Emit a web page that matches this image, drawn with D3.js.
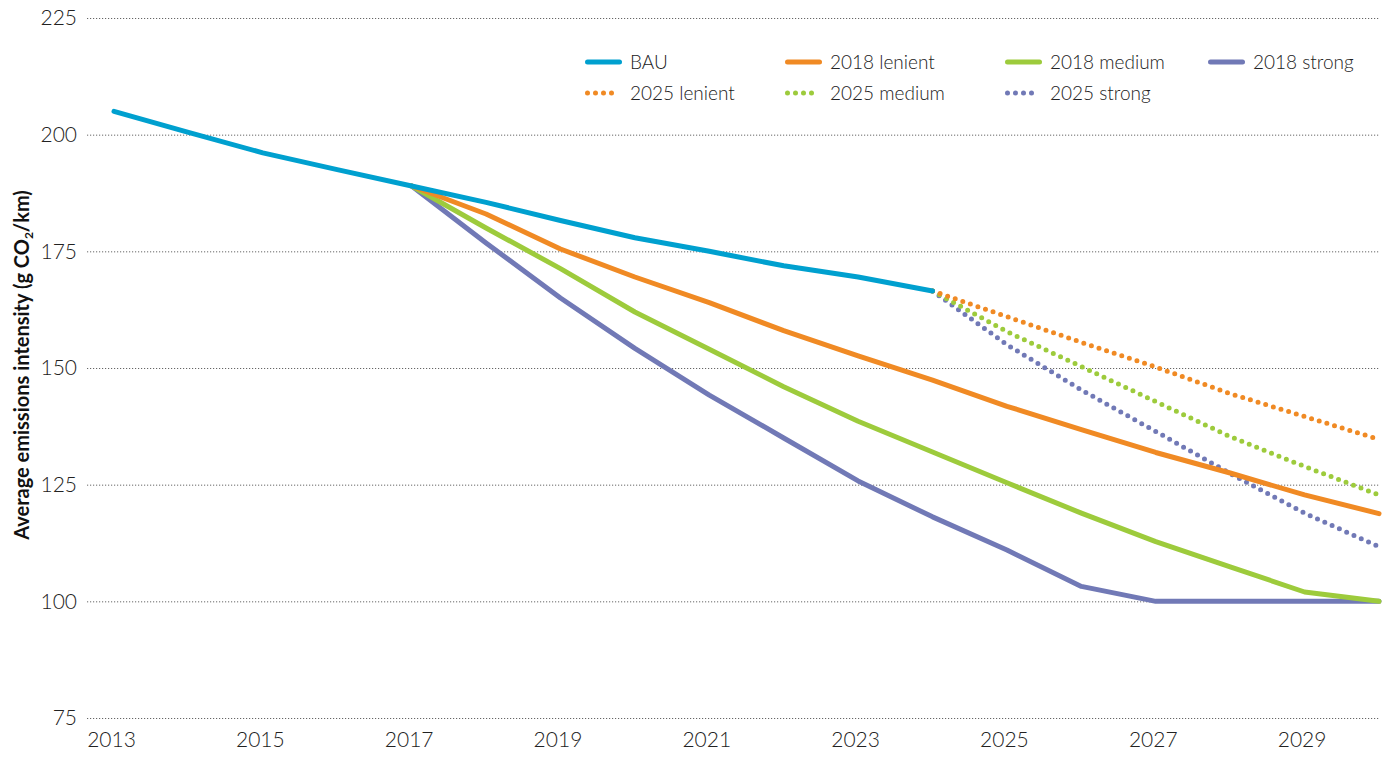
<!DOCTYPE html>
<html>
<head>
<meta charset="utf-8">
<script src="https://cdn.jsdelivr.net/npm/d3@7"></script>
<style>
  body { margin: 0; background: #fff; }
  text { font-family: Lato, "Open Sans", sans-serif; }
</style>
</head>
<body>
<script>
// years along the x axis
var tickYears = [2013, 2015, 2017, 2019, 2021, 2023, 2025, 2027, 2029];
var yTicks = [75, 100, 125, 150, 175, 200, 225];

// values (g CO2/km)
var bau = [205, 200.5, 196.1, 192.5, 189, 185.5, 181.6, 177.9, 175, 171.9, 169.5, 166.5];
var lenient2018 = [189, 183, 175.5, 169.5, 164, 158, 152.6, 147.4, 141.8, 136.8, 131.9, 127.5, 122.8, 118.8];
var medium2018 = [189, 180, 171.3, 162, 154, 146, 138.6, 132, 125.4, 118.9, 112.8, 107.4, 102, 100];
var strong2018 = [189, 176.8, 165, 154.2, 144.2, 135, 125.8, 118.1, 111, 103.2, 100, 100, 100, 100];
var lenient2025 = [166.5, 161, 155.5, 150.2, 144.5, 139.6, 134.7];
var medium2025 = [166.5, 157.8, 150.3, 142.8, 135.3, 128.9, 122.8];
var strong2025 = [166.5, 155, 145.3, 136.4, 127.4, 118.9, 111.7];

var series = [
  {name: "2025 strong", start: 2024, values: strong2025, color: "#7179b6", dotted: true},
  {name: "2025 medium", start: 2024, values: medium2025, color: "#9dcb3c", dotted: true},
  {name: "2025 lenient", start: 2024, values: lenient2025, color: "#f08a24", dotted: true},
  {name: "2018 strong", start: 2017, values: strong2018, color: "#7179b6", dotted: false},
  {name: "2018 medium", start: 2017, values: medium2018, color: "#9dcb3c", dotted: false},
  {name: "2018 lenient", start: 2017, values: lenient2018, color: "#f08a24", dotted: false},
  {name: "BAU", start: 2013, values: bau, color: "#00a0cf", dotted: false}
];

var legendRows = [
  ["BAU", "2018 lenient", "2018 medium", "2018 strong"],
  ["2025 lenient", "2025 medium", "2025 strong"]
];
var legendX = [585, 785, 1005, 1208];

var width = 1386, height = 758;
var svg = d3.select("body").append("svg")
    .attr("width", width)
    .attr("height", height);

var x = d3.scaleLinear().domain([2013, 2030]).range([114, 1379]);
var y = d3.scaleLinear().domain([75, 225]).range([718, 18]);

// grid lines
svg.append("g")
    .selectAll("line")
    .data(yTicks)
    .enter().append("line")
    .attr("x1", 87)
    .attr("x2", 1380)
    .attr("y1", function(d) { return y(d) + 0.5; })
    .attr("y2", function(d) { return y(d) + 0.5; })
    .attr("stroke", "#666")
    .attr("stroke-width", 1)
    .attr("stroke-dasharray", "1.2 1.8");

// y axis labels
var yAxis = d3.axisLeft(y).tickValues(yTicks).tickSize(0).tickPadding(0);
svg.append("g")
    .attr("transform", "translate(77,0)")
    .call(yAxis)
    .call(function(g) { g.select(".domain").remove(); })
    .selectAll("text")
    .attr("font-family", "Lato, sans-serif")
    .attr("font-weight", 300)
    .attr("font-size", 21)
    .attr("fill", "#222");

// x axis labels
var xAxis = d3.axisBottom(x).tickValues(tickYears).tickFormat(d3.format("d")).tickSize(0).tickPadding(0);
svg.append("g")
    .attr("transform", "translate(-3,732)")
    .call(xAxis)
    .call(function(g) { g.select(".domain").remove(); })
    .selectAll("text")
    .attr("font-family", "Lato, sans-serif")
    .attr("font-weight", 300)
    .attr("font-size", 21)
    .attr("fill", "#222");

// y axis title
var title = svg.append("text")
    .attr("transform", "translate(29,365) rotate(-90)")
    .attr("text-anchor", "middle")
    .attr("font-family", "'Open Sans', sans-serif")
    .attr("font-weight", 700)
    .attr("font-size", 20)
    .attr("fill", "#111");
title.append("tspan").text("Average emissions intensity (g CO");
title.append("tspan").attr("font-size", 12).attr("dy", 4).text("2");
title.append("tspan").attr("dy", -4).text("/km)");

// lines
var line = d3.line()
    .x(function(d) { return x(d.year); })
    .y(function(d) { return y(d.value); });

series.forEach(function(s) {
  var pts = s.values.map(function(v, i) { return {year: s.start + i, value: v}; });
  svg.append("path")
      .datum(pts)
      .attr("fill", "none")
      .attr("stroke", s.color)
      .attr("stroke-width", 5)
      .attr("stroke-linecap", "round")
      .attr("stroke-linejoin", "round")
      .attr("stroke-dasharray", s.dotted ? "0 8" : null)
      .attr("d", line);
});

// legend
var colorOf = {};
series.forEach(function(s) { colorOf[s.name] = s; });
legendRows.forEach(function(row, r) {
  var ly = 62 + r * 31;
  row.forEach(function(name, i) {
    var s = colorOf[name];
    var lx = legendX[i];
    svg.append("line")
        .attr("x1", lx + 2.5)
        .attr("x2", s.dotted ? lx + 27 : lx + 34.5)
        .attr("y1", ly)
        .attr("y2", ly)
        .attr("stroke", s.color)
        .attr("stroke-width", 5)
        .attr("stroke-linecap", "round")
        .attr("stroke-dasharray", s.dotted ? "0 8" : null);
    svg.append("text")
        .attr("x", lx + 45)
        .attr("y", ly)
        .attr("dy", "0.35em")
        .attr("font-weight", 300)
        .attr("font-size", 19)
        .attr("fill", "#222")
        .text(name);
  });
});
</script>
</body>
</html>
